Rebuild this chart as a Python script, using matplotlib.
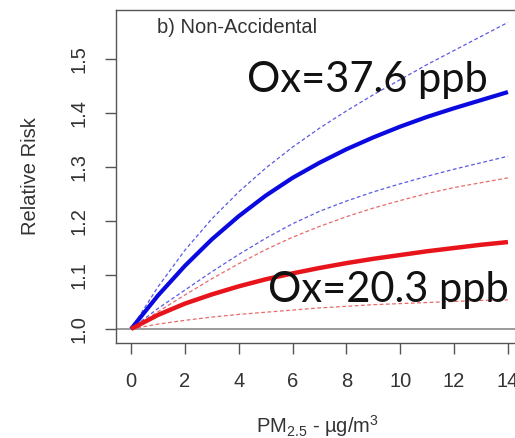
import matplotlib
matplotlib.use("Agg")
import matplotlib.pyplot as plt

plt.rcParams["font.family"] = ["Liberation Sans", "DejaVu Sans"]
plt.rcParams["mathtext.default"] = "regular"

# PM2.5 concentration (ug/m3)
pm25 = [0, 1, 2, 3, 4, 5, 6, 7, 8, 9, 10, 11, 12, 13, 14]

# Relative risk, high oxidant capacity (Ox = 37.6 ppb)
rr_high = [1.000, 1.062, 1.117, 1.166, 1.209, 1.247, 1.280, 1.308,
           1.333, 1.355, 1.375, 1.393, 1.409, 1.424, 1.439]
rr_high_upper = [1.000, 1.078, 1.146, 1.204, 1.254, 1.298, 1.337, 1.372,
                 1.404, 1.434, 1.462, 1.490, 1.516, 1.542, 1.568]
rr_high_lower = [1.000, 1.038, 1.072, 1.106, 1.138, 1.168, 1.195, 1.218,
                 1.237, 1.254, 1.269, 1.283, 1.296, 1.308, 1.320]

# Relative risk, low oxidant capacity (Ox = 20.3 ppb)
rr_low = [1.000, 1.026, 1.047, 1.064, 1.079, 1.092, 1.103, 1.113,
          1.122, 1.130, 1.137, 1.144, 1.150, 1.156, 1.161]
rr_low_upper = [1.000, 1.032, 1.063, 1.093, 1.121, 1.147, 1.170, 1.190,
                1.208, 1.224, 1.238, 1.251, 1.262, 1.271, 1.280]
rr_low_lower = [1.000, 1.009, 1.016, 1.022, 1.027, 1.031, 1.035, 1.039,
                1.042, 1.045, 1.047, 1.049, 1.051, 1.053, 1.054]

x_ticks = [0, 2, 4, 6, 8, 10, 12, 14]
y_ticks = [1.0, 1.1, 1.2, 1.3, 1.4, 1.5]

AXIS_GREY = "#555555"
TEXT_GREY = "#333333"

fig = plt.figure(figsize=(5.15, 4.38), dpi=100)
ax = fig.add_axes([116 / 515, 95 / 438, 407 / 515, 333 / 438])

ax.axhline(1.0, color="#8a8a8a", lw=1.2, zorder=1)

dash = (0, (3, 2))
ax.plot(pm25, rr_high_upper, color="#5a5ae6", lw=0.9, ls=dash, zorder=2)
ax.plot(pm25, rr_high_lower, color="#5a5ae6", lw=0.9, ls=dash, zorder=2)
ax.plot(pm25, rr_low_upper, color="#e86a6a", lw=0.9, ls=dash, zorder=2)
ax.plot(pm25, rr_low_lower, color="#e86a6a", lw=0.9, ls=dash, zorder=2)
ax.plot(pm25, rr_high, color="#0a0ae0", lw=3.0, zorder=3,
        solid_capstyle="butt")
ax.plot(pm25, rr_low, color="#e8141c", lw=3.2, zorder=3,
        solid_capstyle="butt")

ax.set_xlim(-0.56, 14.56)
ax.set_ylim(0.974, 1.591)
ax.set_xticks(x_ticks)
ax.set_yticks(y_ticks)
ax.set_yticklabels([f"{v:.1f}" for v in y_ticks], rotation=90, va="center")

for s in ax.spines.values():
    s.set_color(AXIS_GREY)
    s.set_linewidth(1.0)

ax.tick_params(axis="both", colors=AXIS_GREY, labelcolor=TEXT_GREY,
               labelsize=14.5, length=8, width=1.0)
ax.tick_params(axis="x", pad=13)
ax.tick_params(axis="y", pad=12)

ax.set_ylabel("Relative Risk", fontsize=14.5, color=TEXT_GREY, labelpad=21)
ax.set_xlabel("PM$_{2.5}$ - µg/m$^{3}$", fontsize=14.5, color=TEXT_GREY)
ax.xaxis.set_label_coords((317 - 116) / 407, -(413 - 343) / 333)

ax.text(0.97, 1.558, "b) Non-Accidental", fontsize=14.5, color=TEXT_GREY,
        va="center", ha="left")

ax.text(4.32, 1.439, "Ox=37.6 ppb", family=["Lato", "DejaVu Sans"],
        fontsize=30, color="#111111", va="baseline", ha="left", zorder=4)
ax.text(5.10, 1.050, "Ox=20.3 ppb", family=["Lato", "DejaVu Sans"],
        fontsize=30, color="#111111", va="baseline", ha="left", zorder=4)

fig.savefig("out.png", dpi=100)
plt.close(fig)
